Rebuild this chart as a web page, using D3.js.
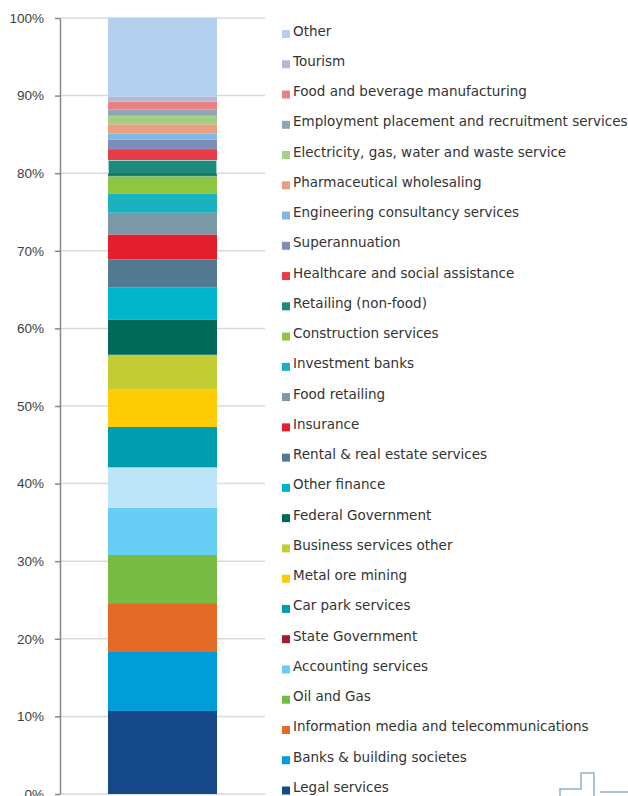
<!DOCTYPE html>
<html>
<head>
<meta charset="utf-8">
<script src="https://cdn.jsdelivr.net/npm/d3@7"></script>
<style>
  body { margin: 0; background: #fff; }
  svg { display: block; }
</style>
</head>
<body>
<svg id="chart" width="628" height="796"></svg>
<script>
// industries, bottom of the bar first
var industries = [
  "Legal services", "Banks & building societes", "Information media and telecommunications",
  "Oil and Gas", "Accounting services", "State Government", "Car park services",
  "Metal ore mining", "Business services other", "Federal Government", "Other finance",
  "Rental & real estate services", "Insurance", "Food retailing", "Investment banks",
  "Construction services", "Retailing (non-food)", "Healthcare and social assistance",
  "Superannuation", "Engineering consultancy services", "Pharmaceutical wholesaling",
  "Electricity, gas, water and waste service", "Employment placement and recruitment services",
  "Food and beverage manufacturing", "Tourism", "Other"
];
// share of total (%)
var shares = [10.7, 7.6, 6.3, 6.2, 6.1, 5.2, 5.2, 4.8, 4.5, 4.5, 4.2, 3.6, 3.2, 2.8,
  2.5, 2.2, 2.1, 1.4, 1.2, 0.8, 1.2, 1.1, 0.8, 1.0, 0.7, 10.1];
var barColors = ["#15498a", "#009ddb", "#e36b26", "#76bc43", "#66cef5", "#bde5f9", "#009daf",
  "#fecb05", "#c1cd32", "#006a5a", "#00b4cc", "#527b91", "#e21f2b", "#7a98a8", "#1bb2c0",
  "#8fc641", "#1e8a7a", "#e93c48", "#7f8eb8", "#7fb8e4", "#eb9d81", "#a5cf84", "#8fa4b5",
  "#eb8080", "#b5b7d4", "#b3d1ee"];
// legend swatches (State Government is shown dark red in the legend)
var legendColors = barColors.slice();
legendColors[5] = "#a6192e";
var yTicks = [0, 0.1, 0.2, 0.3, 0.4, 0.5, 0.6, 0.7, 0.8, 0.9, 1];

var svg = d3.select("#chart");

var row = { group: "all" };
industries.forEach(function(k, i) { row[k] = shares[i] / 100; });
var series = d3.stack().keys(industries)([row]);

var y = d3.scaleLinear().domain([0, 1]).range([794, 18]);
var x = d3.scaleBand().domain(["all"]).range([60, 265]).padding(0.3057);

// gridlines
svg.append("g")
  .selectAll("line")
  .data(yTicks)
  .join("line")
  .attr("x1", 60).attr("x2", 265)
  .attr("y1", d => y(d)).attr("y2", d => y(d))
  .attr("stroke", "#d9d9d9")
  .attr("stroke-width", 1.5);

// bar segments
svg.append("g")
  .selectAll("rect")
  .data(series)
  .join("rect")
  .attr("x", x("all"))
  .attr("width", x.bandwidth())
  .attr("y", d => y(d[0][1]))
  .attr("height", d => y(d[0][0]) - y(d[0][1]))
  .attr("fill", (d, i) => barColors[i]);

// the highlighted retailing segment
var ret = series[16][0];
svg.append("rect")
  .attr("x", x("all") + 0.5)
  .attr("width", x.bandwidth() - 1)
  .attr("y", y(ret[1]) + 0.5)
  .attr("height", y(ret[0]) - y(ret[1]) - 1)
  .attr("fill", "none")
  .attr("stroke", "#9fd3c9")
  .attr("stroke-width", 1);
svg.append("line")
  .attr("x1", x("all")).attr("x2", x("all") + x.bandwidth())
  .attr("y1", y(ret[0]) - 1.5).attr("y2", y(ret[0]) - 1.5)
  .attr("stroke", "#12705f")
  .attr("stroke-width", 2);

// y axis
var yAxis = svg.append("g")
  .attr("transform", "translate(60,0)")
  .call(d3.axisLeft(y).tickValues(yTicks).tickFormat(d3.format(".0%"))
    .tickSizeInner(5).tickSizeOuter(0).tickPadding(11));
yAxis.select(".domain").attr("stroke", "#868686").attr("stroke-width", 1.5);
yAxis.selectAll(".tick line").attr("stroke", "#868686").attr("stroke-width", 1.5);
yAxis.selectAll(".tick text")
  .attr("fill", "#404040")
  .style("font-family", "'Liberation Sans', Arial, sans-serif")
  .style("font-size", "13.5px");

// legend, top entry is the top of the bar
var legendOrder = industries.slice().reverse();
var ly = d3.scalePoint().domain(legendOrder).range([34, 790.5]);
var legend = svg.append("g")
  .selectAll("g")
  .data(legendOrder)
  .join("g")
  .attr("transform", d => "translate(282," + ly(d) + ")");
legend.append("rect")
  .attr("x", 0).attr("y", -4)
  .attr("width", 8).attr("height", 8)
  .attr("fill", d => legendColors[industries.indexOf(d)]);
legend.append("text")
  .attr("x", 11).attr("y", 1.5)
  .attr("fill", "#333")
  .style("font-family", "'DejaVu Sans', Verdana, sans-serif")
  .style("font-size", "13.5px")
  .text(d => d);

// corner logo fragment
svg.append("path")
  .attr("d", "M560,796V789H581V773H594V796M600,792H628")
  .attr("fill", "none")
  .attr("stroke", "#8fb0cc")
  .attr("stroke-width", 1.5);
</script>
</body>
</html>
